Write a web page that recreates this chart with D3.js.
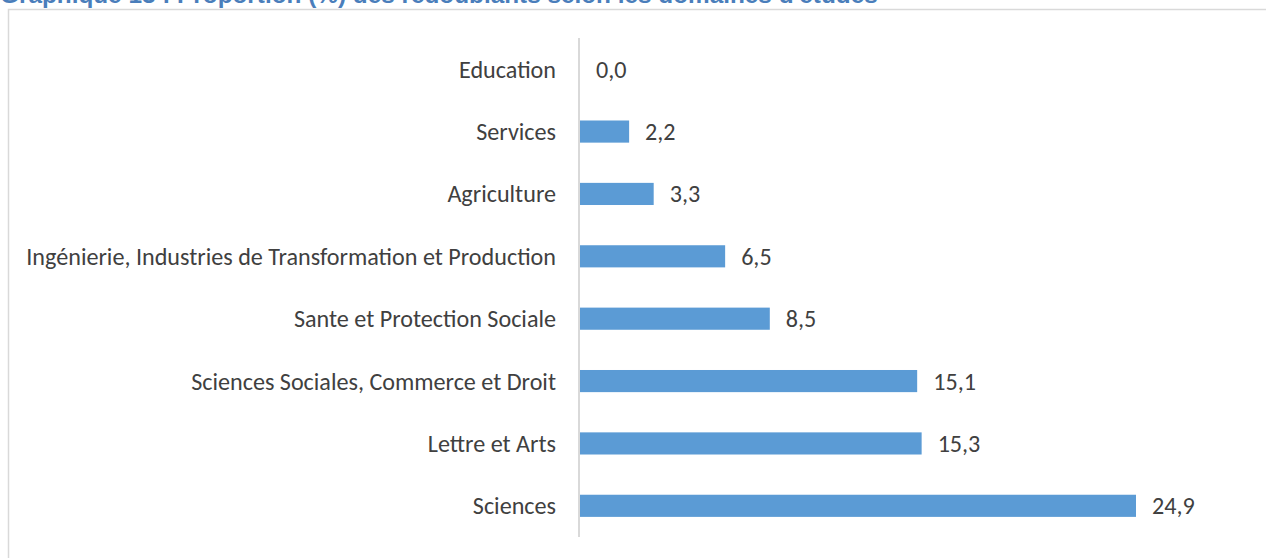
<!DOCTYPE html>
<html><head><meta charset="utf-8">
<script src="https://cdn.jsdelivr.net/npm/d3@7"></script>
<style>
html,body{margin:0;padding:0;background:#fff;overflow:hidden}
svg{display:block}
</style></head>
<body>
<script>
const categories = ["Education","Services","Agriculture","Ingénierie, Industries de Transformation et Production","Sante et Protection Sociale","Sciences Sociales, Commerce et Droit","Lettre et Arts","Sciences"];
const values = [0.0, 2.2, 3.3, 6.5, 8.5, 15.1, 15.3, 24.9];
const valueLabels = ["0,0","2,2","3,3","6,5","8,5","15,1","15,3","24,9"];
const title = "Graphique 13 : Proportion (%) des redoublants selon les domaines d'études";

const W = 1266, H = 558;
const svg = d3.select("body").append("svg").attr("width", W).attr("height", H);
const font = "Carlito, Calibri, 'Liberation Sans', Arial, sans-serif";

// frame
svg.append("path").attr("d", `M8.5,${H} L8.5,9.5 L${W},9.5`)
  .attr("fill","none").attr("stroke","#d9d9d9").attr("stroke-width",1.5);

// title (cut off at top, as in the reference)
const t = svg.append("text").attr("x", 0).attr("y", 3)
  .attr("font-family", "'Liberation Sans', Arial, sans-serif").attr("font-weight","bold").attr("font-size", 20)
  .attr("fill","#4a7ebb").text(title);
const tl = t.node().getComputedTextLength();
t.attr("font-size", 20 * 878 / tl);

const x = d3.scaleLinear().domain([0, 24.9]).range([580, 1136]);
const y = d3.scaleBand().domain(categories).range([38, 537]).paddingInner(0.645).paddingOuter(0.3225);

svg.append("g").selectAll("rect").data(values).join("rect")
  .attr("x", x(0)).attr("y", (d,i)=>y(categories[i]))
  .attr("width", d => x(d)-x(0)).attr("height", y.bandwidth())
  .attr("fill", "#5b9bd5");

// axis line
svg.append("line").attr("x1",579).attr("x2",579).attr("y1",38).attr("y2",537)
  .attr("stroke","#d9d9d9").attr("stroke-width",2);

// category labels
const lab = svg.append("g").selectAll("text").data(categories).join("text")
  .attr("x", 556).attr("y", d => y(d)+y.bandwidth()/2)
  .attr("dy","0.35em").attr("text-anchor","end")
  .attr("font-family", font).attr("font-size", 18).attr("fill","#404040")
  .text(d=>d);
const longNode = lab.nodes()[3];
const lw = longNode.getComputedTextLength();
const fs = 18 * 530 / lw;
lab.attr("font-size", fs);

svg.append("g").selectAll("text").data(values).join("text")
  .attr("x", d => x(d) + 16).attr("y", (d,i)=>y(categories[i])+y.bandwidth()/2)
  .attr("dy","0.35em").attr("font-family", font).attr("font-size", fs)
  .attr("fill","#404040").text((d,i)=>valueLabels[i]);
</script>
</body></html>
